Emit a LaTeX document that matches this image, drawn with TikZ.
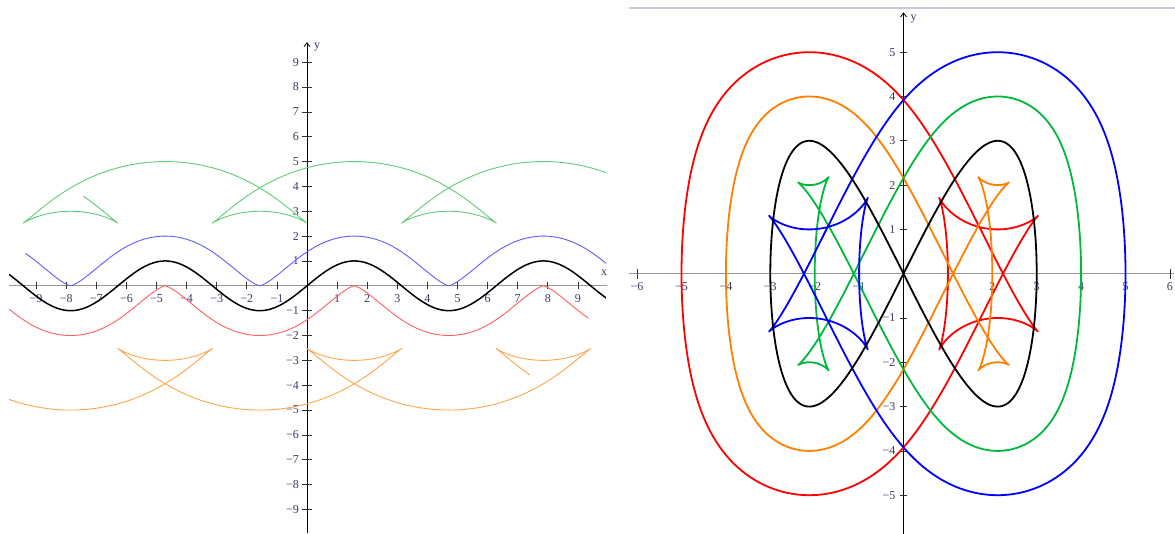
\documentclass[tikz,border=0pt]{standalone}
\usepackage{fontspec}
\setmainfont{Liberation Serif}
\usetikzlibrary{arrows.meta}
\definecolor{lgreen}{RGB}{95,205,120}
\definecolor{lblue}{RGB}{95,95,255}
\definecolor{lred}{RGB}{255,95,95}
\definecolor{lorange}{RGB}{255,165,75}
\definecolor{rgreen}{RGB}{0,185,60}
\definecolor{rorange}{RGB}{255,128,0}
\definecolor{axgray}{RGB}{150,150,150}
\definecolor{lblcol}{RGB}{55,60,95}
\definecolor{topline}{RGB}{200,204,216}
\newcommand\lab[1]{\ifnum#1<0 \char"2212\relax\number\numexpr-#1\relax\else#1\fi}
\tikzset{
  xaxis/.style={draw=axgray,line width=1.3pt},
  yaxis/.style={draw=black,line width=0.8pt,-{Straight Barb[length=4pt,width=6pt]}},
  tick/.style={draw=black!80,line width=0.7pt},
  lbl/.style={text=lblcol,font=\fontsize{12}{13}\selectfont,inner sep=0pt},
  lcurve/.style={line width=0.9pt,line join=round},
  rcurve/.style={line width=1.8pt,line join=round},
}
\begin{document}
\begin{tikzpicture}[x=1pt,y=-1pt]
\useasboundingbox[fill=white] (0pt,0pt) rectangle (1175pt,-533pt);
% ---------------- left panel ----------------
\begin{scope}[shift={(307pt,-285.8pt)},x=30.1pt,y=24.85pt]
  \draw[xaxis] (-9.9,0) coordinate (lxa) -- (9.95,0) coordinate (lxb);
  \draw[yaxis] (0,-9.95) coordinate (lya) -- (0,9.81) coordinate (lyb);
  \foreach \i in {-9,...,-1,1,2,...,9}{
    \draw[tick] (\i,0) +(0,-3.5pt) -- +(0,3.5pt);
    \node[lbl] (lx\i) at (\i,0) [yshift=-13pt] {\lab{\i}};
    \draw[tick] (0,\i) +(-5pt,0) -- +(5pt,0);
    \node[lbl,anchor=east] (ly\i) at (0,\i) [xshift=-8pt] {\lab{\i}};
  }
  \node[lbl] (lxl) at (9.87,0) [yshift=13pt] {x};
  \node[lbl] (lyl) at (0,9.81) [xshift=10pt,yshift=-5pt] {y};
  \begin{scope}
    \clip (-9.9,-10.5) rectangle (9.93,10.5);
    \draw[lcurve,lgreen] plot[variable=\t,domain=-10:10,samples=900,smooth]
      ({\t-4*cos(\t r)/sqrt(1+cos(\t r)*cos(\t r))},{sin(\t r)+4/sqrt(1+cos(\t r)*cos(\t r))});
    \draw[lcurve,lorange] plot[variable=\t,domain=-10:10,samples=900,smooth]
      ({\t+4*cos(\t r)/sqrt(1+cos(\t r)*cos(\t r))},{sin(\t r)-4/sqrt(1+cos(\t r)*cos(\t r))});
    \draw[lcurve,lblue] plot[variable=\t,domain=-10:10,samples=600,smooth]
      ({\t-cos(\t r)/sqrt(1+cos(\t r)*cos(\t r))},{sin(\t r)+1/sqrt(1+cos(\t r)*cos(\t r))});
    \draw[lcurve,lred] plot[variable=\t,domain=-11:10,samples=600,smooth]
      ({\t+cos(\t r)/sqrt(1+cos(\t r)*cos(\t r))},{sin(\t r)-1/sqrt(1+cos(\t r)*cos(\t r))});
    \draw[line width=1.5pt,black] plot[variable=\t,domain=-10:10,samples=400,smooth]
      ({\t},{sin(\t r)});
  \end{scope}
\end{scope}
% ---------------- right panel ----------------
\draw[draw=topline,line width=2pt] (629pt,-8pt) coordinate (tla) -- (1175pt,-8pt) coordinate (tlb);
\begin{scope}[shift={(903.5pt,-273.7pt)},x=44.4pt,y=44.3pt]
  \draw[xaxis] (-6.18,0) coordinate (rxa) -- (6.1,0) coordinate (rxb);
  \draw[yaxis] (0,-5.9) coordinate (rya) -- (0,5.9) coordinate (ryb);
  \foreach \i in {-6,...,-1,1,2,...,6}{
    \draw[tick] (\i,0) +(0,-5pt) -- +(0,5pt);
    \node[lbl] (rx\i) at (\i,0) [yshift=-13pt] {\lab{\i}};
  }
  \foreach \i in {-5,...,-1,1,2,...,5}{
    \draw[tick] (0,\i) +(-3.5pt,0) -- +(3.5pt,0);
    \node[lbl,anchor=east] (ry\i) at (0,\i) [xshift=-8pt] {\lab{\i}};
  }
  \node[lbl] (ryl) at (0,5.9) [xshift=10pt,yshift=-7pt] {y};
  % offset curves of x=3cos t, y=3 sin 2t
  \foreach \d/\c in {2/red,1/rorange,-1/rgreen,-2/blue}{
    \draw[rcurve,\c] plot[variable=\t,domain=0:360,samples=1081]
      ({3*cos(\t)-\d*6*cos(2*\t)/sqrt(36*cos(2*\t)*cos(2*\t)+9*sin(\t)*sin(\t))},
       {3*sin(2*\t)-\d*3*sin(\t)/sqrt(36*cos(2*\t)*cos(2*\t)+9*sin(\t)*sin(\t))}) -- cycle;
  }
  \draw[rcurve,black] plot[variable=\t,domain=0:360,samples=361,smooth]
      ({3*cos(\t)},{3*sin(2*\t)}) -- cycle;
\end{scope}
\end{tikzpicture}
\end{document}
